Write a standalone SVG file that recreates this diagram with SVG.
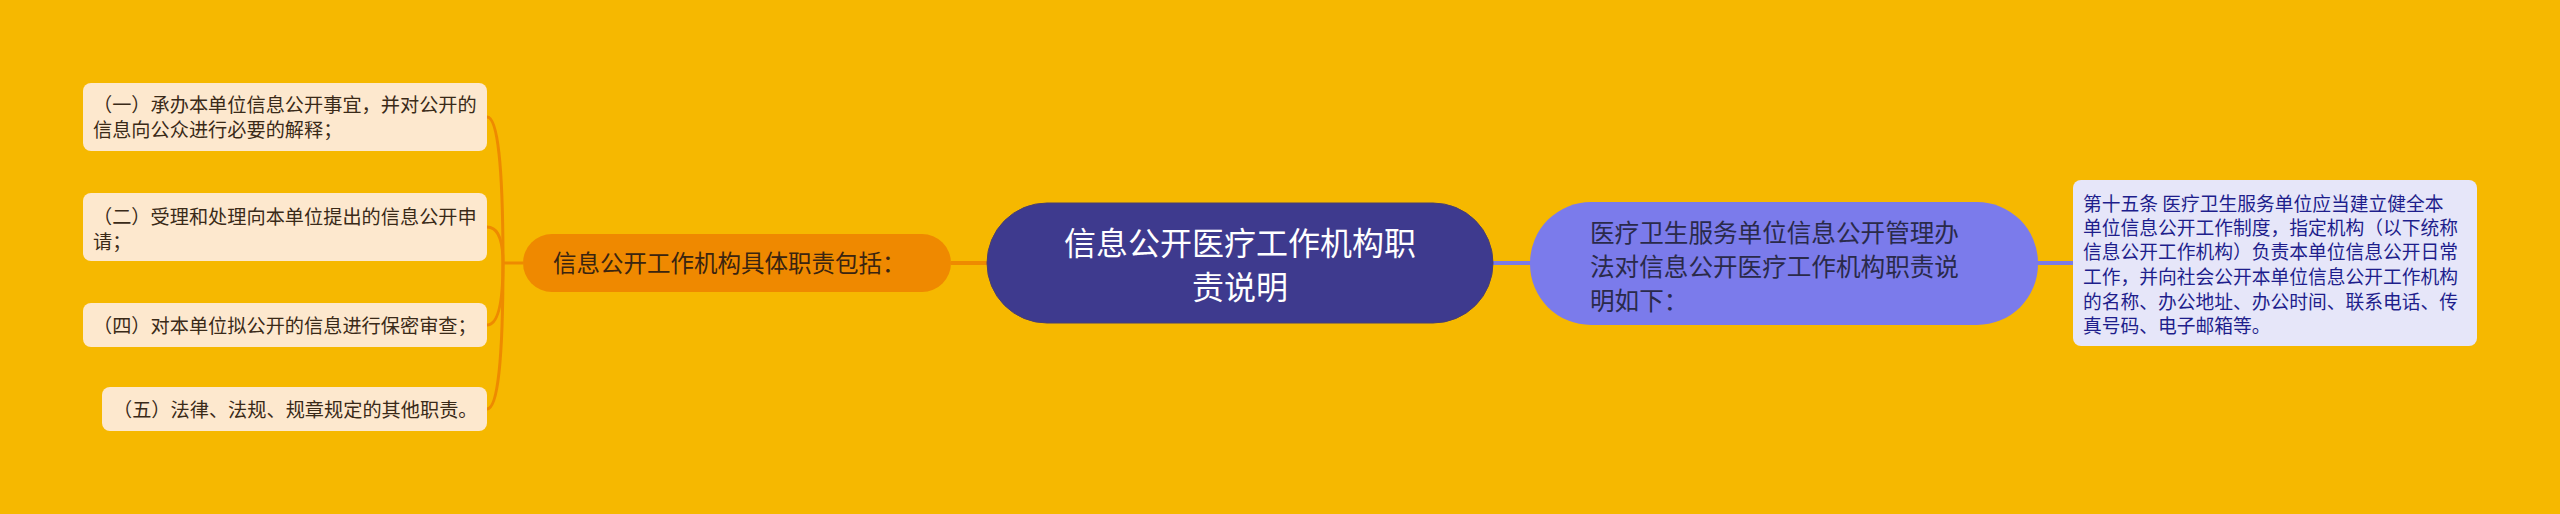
<svg xmlns="http://www.w3.org/2000/svg" width="2560" height="514" viewBox="0 0 2560 514">
<style>
text{font-family:"Noto Sans CJK SC","Noto Sans",sans-serif;}
.leaf{fill:#FDE8CE;}
.leaft{font-size:19.2px;fill:#3A2A18;}
.orange-line{fill:none;stroke:#EE8A00;stroke-width:3;}
.purple-line{fill:none;stroke:#7B7BE6;stroke-width:4;}
.rt{font-size:18.75px;fill:#1E1E8C;}
.pt{font-size:24.6px;fill:#2A2A4A;}
</style>
<rect width="2560" height="514" fill="#F6B800"/>
<g id="connectors">
<path class="orange-line" d="M523 263 L503 263"/>
<path class="orange-line" d="M503 263 Q503 117 487 117"/>
<path class="orange-line" d="M503 263 Q503 227 487 227"/>
<path class="orange-line" d="M503 263 Q503 325 487 325"/>
<path class="orange-line" d="M503 263 Q503 409 487 409"/>
<path class="orange-line" d="M951 263 L990 263" style="stroke-width:4"/>
<path class="purple-line" d="M1490 263 L1533 263"/>
<path class="purple-line" d="M2036 263 L2074 263"/>
</g>
<g id="center">
<rect x="987" y="203" width="506" height="120" rx="60" fill="#3E3A8E" stroke="#4A3F6E" stroke-width="1"/>
<text x="1240" y="255" font-size="32" fill="#FFFFFF" text-anchor="middle">信息公开医疗工作机构职</text>
<text x="1240" y="299" font-size="32" fill="#FFFFFF" text-anchor="middle">责说明</text>
</g>
<g id="orange-node">
<rect x="523" y="234" width="428" height="58" rx="29" fill="#EF8900"/>
<text x="553" y="272" font-size="23.5" fill="#3A2410">信息公开工作机构具体职责包括：</text>
</g>
<g id="leaf1">
<rect class="leaf" x="83" y="83" width="404" height="68" rx="8"/>
<text class="leaft" x="93" y="112">（一）承办本单位信息公开事宜，并对公开的</text>
<text class="leaft" x="93" y="137">信息向公众进行必要的解释；</text>
</g>
<g id="leaf2">
<rect class="leaf" x="83" y="193" width="404" height="68" rx="8"/>
<text class="leaft" x="93" y="224">（二）受理和处理向本单位提出的信息公开申</text>
<text class="leaft" x="93" y="249">请；</text>
</g>
<g id="leaf3">
<rect class="leaf" x="83" y="303" width="404" height="44" rx="8"/>
<text class="leaft" x="93" y="333">（四）对本单位拟公开的信息进行保密审查；</text>
</g>
<g id="leaf4">
<rect class="leaf" x="102" y="387" width="385" height="44" rx="8"/>
<text class="leaft" x="113" y="417">（五）法律、法规、规章规定的其他职责。</text>
</g>
<g id="purple-node">
<rect x="1530" y="202" width="508" height="123" rx="61" fill="#7B7BEB"/>
<text class="pt" x="1590" y="242">医疗卫生服务单位信息公开管理办</text>
<text class="pt" x="1590" y="276">法对信息公开医疗工作机构职责说</text>
<text class="pt" x="1590" y="310">明如下：</text>
</g>
<g id="detail">
<rect x="2073" y="180" width="404" height="166" rx="8" fill="#E6E6F9"/>
<text class="rt" x="2083" y="210.5">第十五条 医疗卫生服务单位应当建立健全本</text>
<text class="rt" x="2083" y="235">单位信息公开工作制度，指定机构（以下统称</text>
<text class="rt" x="2083" y="259">信息公开工作机构）负责本单位信息公开日常</text>
<text class="rt" x="2083" y="284">工作，并向社会公开本单位信息公开工作机构</text>
<text class="rt" x="2083" y="308.5">的名称、办公地址、办公时间、联系电话、传</text>
<text class="rt" x="2083" y="332.5">真号码、电子邮箱等。</text>
</g>
</svg>
